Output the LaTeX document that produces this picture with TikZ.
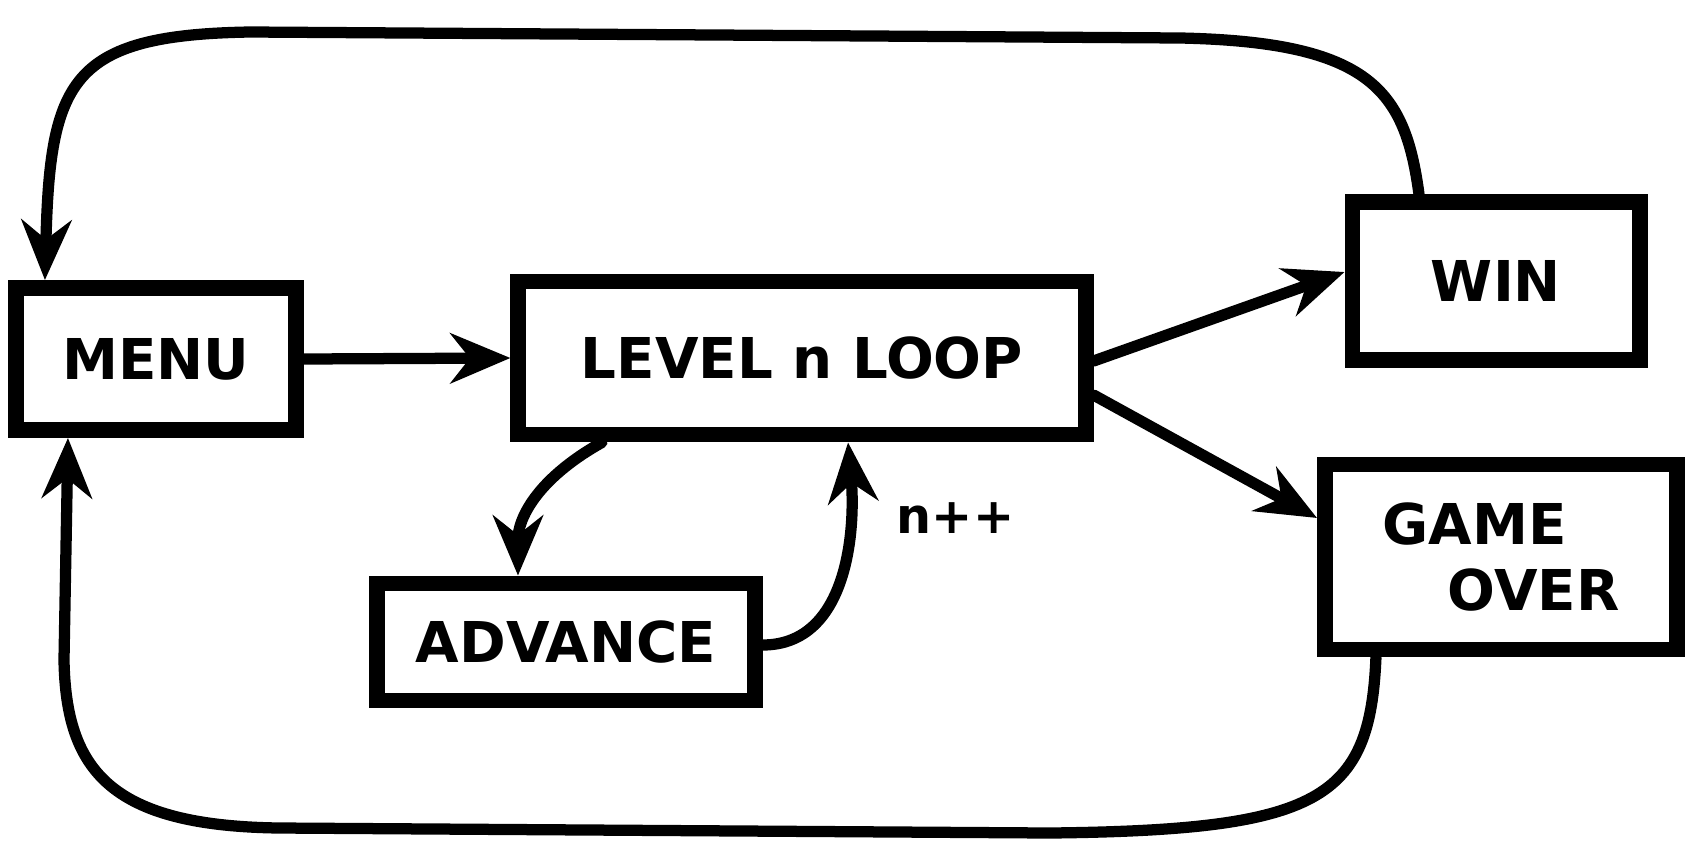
\documentclass[tikz,border=0pt]{standalone}
\usepackage{fontspec}
\setsansfont{DejaVu Sans}
\usetikzlibrary{arrows.meta,calc}

\begin{document}
\begin{tikzpicture}[x=0.01cm,y=-0.01cm,
  box/.style={draw,line width=4.5pt,inner sep=0pt,font=\sffamily\bfseries\fontsize{16}{19}\selectfont},
  link/.style={line width=3.2pt,line cap=round,-{Stealth[length=6mm,width=5mm]}}]
  \useasboundingbox (0,0) rectangle (1686,848);
  % states
  \node[box,minimum width=2.8cm,minimum height=1.42cm] (menu) at (156,359) {MENU};
  \node[box,minimum width=5.67cm,minimum height=1.53cm] (level) at (802,358) {LEVEL n LOOP};
  \node[box,minimum width=2.87cm,minimum height=1.58cm] (win) at (1496,281) {WIN};
  \node[box,minimum width=3.52cm,minimum height=1.85cm,align=left] (over) at (1501,557) {GAME\\\hspace{0.65cm}OVER};
  \node[box,minimum width=3.77cm,minimum height=1.17cm] (adv) at (566,642) {ADVANCE};
  % transitions
  \draw[link] (menu.east) -- (level.west);
  \draw[link] ([yshift=-0.03cm]level.east) -- ([yshift=0.09cm]win.west);
  \draw[link] ([yshift=-0.37cm]level.east) -- ([yshift=0.39cm]over.west);
  \draw[link] ([xshift=-2.0cm]level.south) .. controls (535,480) and (518,520) .. ([xshift=-0.48cm]adv.north);
  \draw[link] ([yshift=-0.03cm]adv.east) to[out=0,in=-85]
    node[pos=0.72,right=0.3cm,font=\sffamily\bfseries\fontsize{14}{17}\selectfont] (inc) {n++}
    ([xshift=0.46cm]level.south);
  % loops back to the menu
  \draw[link] ([xshift=-0.77cm]win.north) .. controls (1405,90) and (1370,42) .. (1180,38)
    -- (250,32) .. controls (70,35) and (50,80) .. ([xshift=-1.11cm]menu.north);
  \draw[link] ([xshift=-1.25cm]over.south) .. controls (1370,800) and (1320,830) .. (1050,833)
    -- (280,828) .. controls (110,826) and (66,770) .. (64,660) -- ([xshift=-0.88cm]menu.south);
\end{tikzpicture}
\end{document}
